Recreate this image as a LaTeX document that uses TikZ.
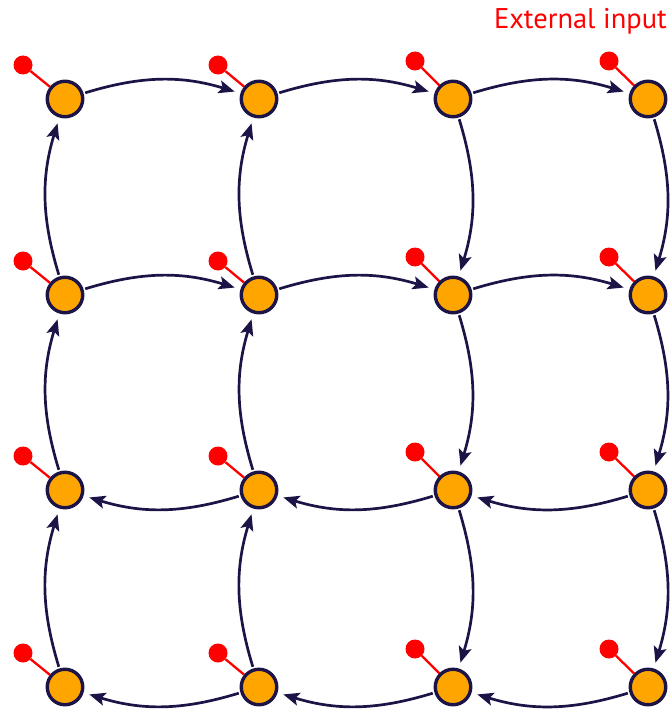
\documentclass[tikz,border=0pt]{standalone}
\usepackage{fontspec}
\setmainfont{PT Sans}
\usetikzlibrary{arrows.meta}
\definecolor{navy}{HTML}{1C1446}
\definecolor{orng}{HTML}{FFA500}
\begin{document}
\begin{tikzpicture}[x=1pt,y=-1pt,
 neuron/.style={circle, fill=orng, draw=navy, line width=3.4pt, minimum size=35.5pt, inner sep=0pt},
 inp/.style={circle, fill=red, minimum size=19pt, inner sep=0pt},
 link/.style={draw=navy, line width=2.7pt, -{Stealth[length=16pt,width=13pt,inset=3.5pt]}, shorten >=6pt, shorten <=1.7pt, bend left=17},
 inwire/.style={draw=red, line width=2.3pt}]
\useasboundingbox (0,0) rectangle (670,709);
\foreach \r/\y in {1/99,2/295,3/490,4/687}{
  \foreach \c/\x/\dx/\dy in {1/65/-42/-34,2/259/-41/-34,3/453/-38/-38,4/648/-39/-38}{
    \node[neuron] (n-\r-\c) at (\x,\y) {};
    \node[inp] (i-\r-\c) at (\x+\dx,\y+\dy) {};
    \draw[inwire] (i-\r-\c) -- (n-\r-\c);
  }
}
% rows 1,2 rightward; rows 3,4 leftward
\foreach \r in {1,2}{
  \foreach \c/\d in {1/2,2/3,3/4}{
    \draw[link] (n-\r-\c) to (n-\r-\d);
  }
}
\foreach \r in {3,4}{
  \foreach \c/\d in {1/2,2/3,3/4}{
    \draw[link] (n-\r-\d) to (n-\r-\c);
  }
}
% columns 1,2 upward; columns 3,4 downward
\foreach \c in {1,2}{
  \foreach \r/\s in {1/2,2/3,3/4}{
    \draw[link] (n-\s-\c) to (n-\r-\c);
  }
}
\foreach \c in {3,4}{
  \foreach \r/\s in {1/2,2/3,3/4}{
    \draw[link] (n-\r-\c) to (n-\s-\c);
  }
}
\node[text=red, font=\fontsize{28.5}{32}\selectfont, anchor=base east, inner sep=0pt] (lbl) at (667,29) {External input};
\end{tikzpicture}
\end{document}
